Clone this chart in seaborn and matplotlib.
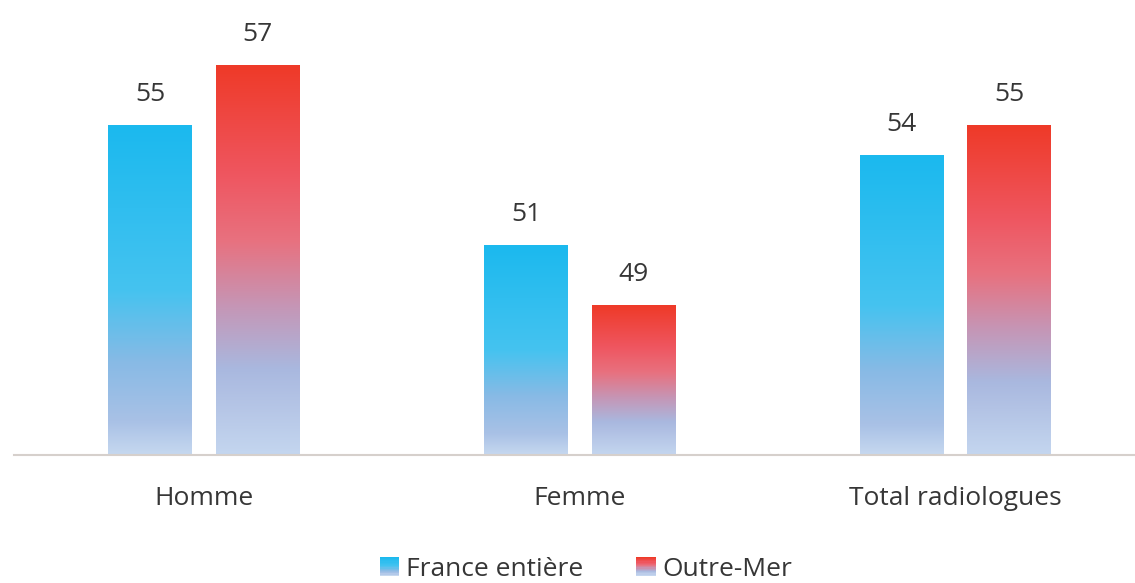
import numpy as np
import pandas as pd
import matplotlib
matplotlib.use("Agg")
import matplotlib.pyplot as plt
import seaborn as sns
from matplotlib.colors import LinearSegmentedColormap
from matplotlib.legend_handler import HandlerBase
from matplotlib.patches import Rectangle

categories = ["Homme", "Femme", "Total radiologues"]
series = ["France entière", "Outre-Mer"]
france_values = [55, 51, 54]
outremer_values = [57, 49, 55]

df = pd.DataFrame({
    "cat": categories * 2,
    "serie": [series[0]] * 3 + [series[1]] * 3,
    "val": france_values + outremer_values,
})

blue_cmap = LinearSegmentedColormap.from_list("blue", [
    (0.0, "#1bb9ee"), (0.5, "#45c3f0"), (0.72, "#88bae5"),
    (0.9, "#a9c1e6"), (1.0, "#c6d8ef")])
red_cmap = LinearSegmentedColormap.from_list("red", [
    (0.0, "#ee3a28"), (0.28, "#ef5660"), (0.45, "#e8717f"),
    (0.62, "#c596b6"), (0.78, "#a9b8df"), (1.0, "#c4d6ef")])
cmaps = {series[0]: blue_cmap, series[1]: red_cmap}

sns.set_theme(style="white")
plt.rcParams['font.family'] = ['Open Sans', 'DejaVu Sans']
text_color = "#363636"

fig = plt.figure(figsize=(11.35, 5.83), dpi=100)
ax = fig.add_axes([14 / 1135, 1 - 455 / 583, (1135 - 14) / 1135, 455 / 583])

sns.barplot(data=df, x="cat", y="val", hue="serie", hue_order=series,
            palette=["#1bb9ee", "#ee3a28"], width=0.572, gap=0.22,
            legend=False, ax=ax)

ymin, ymax = 44, 44 + 455 / 30
xmin, xmax = -190 / 376, (1135 - 203.5) / 376

grad = np.linspace(0, 1, 256).reshape(-1, 1)
for container, s in zip(ax.containers, series):
    for patch in container.patches:
        x0 = patch.get_x()
        w = patch.get_width()
        top = patch.get_y() + patch.get_height()
        patch.set_facecolor("none")
        patch.set_edgecolor("none")
        ax.imshow(grad, cmap=cmaps[s], aspect="auto",
                  extent=(x0, x0 + w, ymin, top), origin="upper",
                  zorder=2, interpolation="bicubic")
    ax.bar_label(container, fmt="%d", padding=13, fontsize=19, color=text_color)

ax.set_xlim(xmin, xmax)
ax.set_ylim(ymin, ymax)
ax.set_xlabel("")
ax.set_ylabel("")
ax.set_yticks([])
for sp in ["left", "right", "top"]:
    ax.spines[sp].set_visible(False)
ax.spines["bottom"].set_color("#d6d0cc")
ax.spines["bottom"].set_linewidth(1.5)
ax.tick_params(axis="x", length=0, pad=22, labelsize=19, labelcolor=text_color)


class GradHandler(HandlerBase):
    def __init__(self, cmap):
        super().__init__()
        self.cmap = cmap

    def create_artists(self, legend, orig_handle, xdescent, ydescent,
                       width, height, fontsize, trans):
        n = 16
        arts = []
        side = height
        x = -xdescent + (width - side)
        for i in range(n):
            y = -ydescent + side * (1 - (i + 1) / n)
            arts.append(Rectangle((x, y), side, side / n + 0.05,
                                  facecolor=self.cmap(i / (n - 1)),
                                  edgecolor="none", transform=trans))
        return arts


h1 = Rectangle((0, 0), 1, 1)
h2 = Rectangle((0, 0), 1, 1)
fig.legend([h1, h2], series, loc="center", bbox_to_anchor=(0.516, 0.024),
           ncol=2, frameon=False, fontsize=19, labelcolor=text_color,
           handler_map={h1: GradHandler(blue_cmap), h2: GradHandler(red_cmap)},
           handlelength=0.75, handleheight=0.75, handletextpad=0.25,
           columnspacing=2.0)

fig.savefig("out.png", dpi=100)
